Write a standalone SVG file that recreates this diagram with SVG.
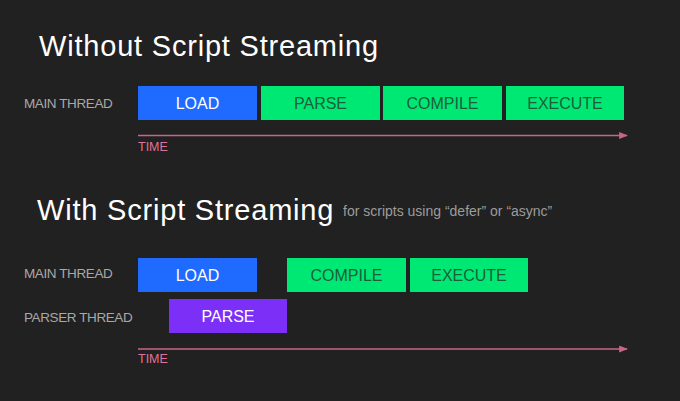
<svg xmlns="http://www.w3.org/2000/svg" width="680" height="401" viewBox="0 0 680 401">
<defs>
<marker id="arr" viewBox="0 0 10 8" refX="9" refY="4" markerWidth="9" markerHeight="7" markerUnits="userSpaceOnUse" orient="auto">
<path d="M0,0 L10,4 L0,8 Z" fill="#c8668a"/>
</marker>
<style>
.title{font-family:"Liberation Sans",Arial,sans-serif;font-size:29px;fill:#ffffff;letter-spacing:0.8px}
.sub{font-family:"Liberation Sans",Arial,sans-serif;font-size:14px;fill:#9c9c9c}
.lbl{font-family:"Liberation Sans",Arial,sans-serif;font-size:13.5px;fill:#a8a8a8;letter-spacing:-0.4px}
.time{font-family:"Liberation Sans",Arial,sans-serif;font-size:12.5px;fill:#e0729a}
.bt{font-family:"Liberation Sans",Arial,sans-serif;font-size:16px;text-anchor:middle}
.blue{fill:#1f6bff}
.green{fill:#00e874}
.purple{fill:#7b2ff7}
.wt{fill:#ffffff}
.gt{fill:#1b5e3c}
.axis{stroke:#c8668a;stroke-width:1.5;fill:none}
</style>
</defs>
<rect width="680" height="401" fill="#212121"/>

<text class="title" x="39" y="56">Without Script Streaming</text>
<text class="lbl" x="24" y="108">MAIN THREAD</text>

<g id="load1"><rect class="blue" x="138" y="86" width="119" height="34"/><text class="bt wt" x="197.5" y="109">LOAD</text></g>
<g id="parse1"><rect class="green" x="261" y="86" width="119" height="34"/><text class="bt gt" x="320.5" y="109">PARSE</text></g>
<g id="compile1"><rect class="green" x="383" y="86" width="119" height="34"/><text class="bt gt" x="442.5" y="109">COMPILE</text></g>
<g id="execute1"><rect class="green" x="506" y="86" width="118" height="34"/><text class="bt gt" x="565" y="109">EXECUTE</text></g>

<text class="time" x="138" y="151">TIME</text>

<text class="title" x="37" y="220">With Script Streaming</text>
<text class="sub" x="343" y="216">for scripts using “defer” or “async”</text>
<text class="lbl" x="24" y="278">MAIN THREAD</text>
<text class="lbl" x="24" y="322">PARSER THREAD</text>

<g id="load2"><rect class="blue" x="138" y="258" width="119" height="34"/><text class="bt wt" x="197.5" y="281">LOAD</text></g>
<g id="compile2"><rect class="green" x="287" y="258" width="119" height="34"/><text class="bt gt" x="346.5" y="281">COMPILE</text></g>
<g id="execute2"><rect class="green" x="410" y="258" width="118" height="34"/><text class="bt gt" x="469" y="281">EXECUTE</text></g>
<g id="parse2"><rect class="purple" x="169" y="299" width="118" height="34"/><text class="bt wt" x="228" y="322">PARSE</text></g>

<text class="time" x="138" y="363">TIME</text>

<g id="connectors">
<line class="axis" x1="138" y1="135.5" x2="627" y2="135.5" marker-end="url(#arr)"/>
<line class="axis" x1="138" y1="349" x2="627" y2="349" marker-end="url(#arr)"/>
</g>
</svg>
